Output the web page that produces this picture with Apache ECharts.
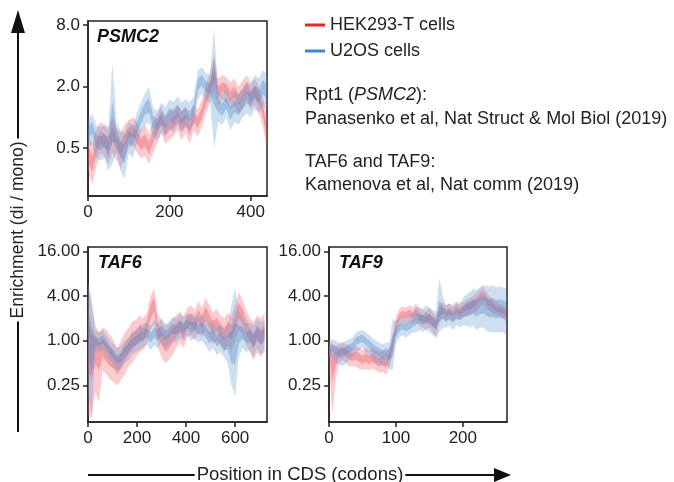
<!DOCTYPE html>
<html><head><meta charset="utf-8">
<script src="https://cdn.jsdelivr.net/npm/echarts@6/dist/echarts.min.js"></script>
<style>html,body{margin:0;padding:0;background:#fff}#c{width:674px;height:482px}</style>
</head><body><div id="c"></div>
<script>
// ---------- DATA (enrichment di/mono, linear units) ----------
const seriesNames = ['HEK293-T cells', 'U2OS cells'];
const panelTitles = ['PSMC2', 'TAF6', 'TAF9'];

const psmc2X = [0,10,20,30,40,50,60,70,80,90,100,110,120,130,140,150,160,170,180,190,200,210,220,230,240,250,260,270,280,290,300,310,320,330,340,350,360,370,380,390,400,410,420,430,440];
const psmc2HekMid = [0.45,0.35,0.5,0.65,0.6,0.55,0.7,0.55,0.5,0.6,0.7,0.75,0.65,0.55,0.6,0.5,0.65,0.8,0.95,0.75,0.85,0.9,1.0,0.85,0.95,0.75,1.0,0.9,1.1,1.5,2.0,2.6,1.8,2.0,1.9,1.6,1.8,1.5,1.7,2.0,1.6,1.8,1.5,1.2,0.7];
const psmc2HekLo  = [0.3,0.22,0.32,0.45,0.42,0.35,0.45,0.38,0.32,0.4,0.5,0.55,0.45,0.4,0.42,0.35,0.45,0.55,0.7,0.55,0.6,0.65,0.75,0.6,0.7,0.55,0.75,0.65,0.8,1.1,1.4,1.8,1.3,1.5,1.4,1.2,1.3,1.1,1.2,1.5,1.2,1.3,1.1,0.8,0.5];
const psmc2HekHi  = [0.7,0.55,0.75,0.9,0.85,0.8,1.0,0.8,0.7,0.85,0.95,1.0,0.9,0.75,0.85,0.7,0.9,1.1,1.3,1.0,1.15,1.2,1.35,1.15,1.3,1.0,1.35,1.2,1.5,2.1,2.8,4.0,2.4,2.6,2.5,2.2,2.4,2.0,2.3,2.6,2.2,2.4,2.0,1.6,1.0];
const psmc2U2Mid  = [0.7,0.8,0.6,0.55,0.6,0.5,0.8,0.65,0.5,0.45,0.65,0.6,0.8,1.0,1.2,1.3,0.9,0.85,1.0,0.9,1.1,1.0,1.15,1.0,1.1,1.0,1.2,2.1,2.3,2.0,1.9,2.5,1.3,1.2,1.4,1.1,1.3,1.2,1.4,1.6,1.5,1.8,1.6,2.0,1.8];
const psmc2U2Lo   = [0.5,0.55,0.4,0.38,0.4,0.3,0.35,0.45,0.3,0.25,0.45,0.4,0.55,0.7,0.85,0.9,0.65,0.6,0.7,0.65,0.8,0.7,0.85,0.7,0.8,0.75,0.85,1.5,1.7,1.5,1.4,0.5,0.9,0.85,1.0,0.75,0.9,0.85,1.0,1.1,1.0,1.2,1.1,1.3,1.2];
const psmc2U2Hi   = [0.95,1.1,0.85,0.8,0.85,0.75,3.5,0.9,0.75,0.7,0.9,0.85,1.1,1.4,1.7,2.0,1.25,1.15,1.4,1.25,1.5,1.4,1.6,1.4,1.5,1.4,1.6,2.9,3.1,2.7,2.6,7.5,1.8,1.7,1.9,1.5,1.8,1.7,1.9,2.2,2.1,2.6,2.4,2.9,2.6];

const taf6X = [0,15,30,45,60,75,90,105,120,135,150,165,180,195,210,225,240,255,270,285,300,315,330,345,360,375,390,405,420,435,450,465,480,495,510,525,540,555,570,585,600,615,630,645,660,675,690,705,720];
const taf6HekMid = [1.0,0.7,0.9,0.75,0.8,0.7,0.6,0.55,0.45,0.55,0.7,0.85,1.0,1.1,1.3,1.2,1.5,2.5,3.2,1.4,1.1,0.9,1.0,1.2,1.4,1.6,1.3,1.8,2.0,1.7,2.2,1.8,2.4,1.9,1.5,1.7,1.4,1.2,1.5,1.3,1.8,2.6,2.2,1.6,1.2,1.0,1.3,1.1,1.4];
const taf6HekLo  = [0.1,0.09,0.2,0.15,0.4,0.35,0.3,0.28,0.25,0.3,0.35,0.45,0.5,0.6,0.7,0.75,0.9,1.4,1.7,0.8,0.6,0.5,0.55,0.65,0.8,0.95,0.8,1.1,1.2,1.0,1.3,1.1,1.4,1.1,0.9,1.0,0.85,0.7,0.85,0.75,1.0,1.4,1.2,0.9,0.7,0.55,0.7,0.6,0.8];
const taf6HekHi  = [6.0,3.0,1.6,1.3,1.5,1.4,1.2,1.0,0.8,1.0,1.3,1.5,1.8,1.9,2.2,2.0,2.4,4.0,5.0,2.3,1.9,1.6,1.7,2.0,2.2,2.5,2.1,2.8,3.0,2.6,3.4,2.8,3.8,3.0,2.4,2.7,2.2,2.0,2.4,2.1,3.0,4.5,3.6,2.6,2.0,1.8,2.2,2.0,2.4];
const taf6U2Mid  = [1.5,0.9,1.0,0.95,1.05,0.9,0.75,0.65,0.55,0.6,0.7,0.8,0.95,1.0,1.1,1.2,1.3,1.1,1.3,1.2,1.4,1.2,1.3,1.5,1.4,1.6,1.5,1.7,1.5,1.6,1.4,1.5,1.3,1.1,1.2,1.0,1.1,0.9,1.0,0.8,0.9,1.2,1.3,1.1,1.2,1.0,1.3,1.1,1.2];
const taf6U2Lo   = [0.2,0.1,0.7,0.7,0.75,0.65,0.55,0.45,0.4,0.42,0.5,0.55,0.65,0.7,0.75,0.8,0.9,0.75,0.85,0.8,0.95,0.8,0.9,1.0,0.95,1.1,1.0,1.2,1.0,1.1,0.95,1.0,0.85,0.7,0.8,0.65,0.7,0.6,0.5,0.25,0.18,0.6,0.8,0.7,0.75,0.6,0.8,0.65,0.7];
const taf6U2Hi   = [6.0,3.5,1.4,1.3,1.4,1.2,1.0,0.9,0.8,0.85,1.0,1.1,1.3,1.4,1.6,1.7,1.8,1.6,1.9,1.7,2.0,1.7,1.8,2.1,2.0,2.3,2.1,2.4,2.2,2.3,2.0,2.2,1.9,1.7,1.8,1.5,1.7,1.4,1.6,3.0,5.0,2.5,2.0,1.7,1.8,1.6,2.0,1.8,1.9];

const taf9X = [0,5,10,15,20,25,30,35,40,45,50,55,60,65,70,75,80,85,90,95,100,105,110,115,120,125,130,135,140,145,150,155,160,165,170,175,180,185,190,195,200,205,210,215,220,225,230,235,240,245,250,255,260,265];
const taf9HekMid = [0.8,0.55,0.6,0.7,0.75,0.7,0.65,0.6,0.65,0.6,0.55,0.6,0.55,0.6,0.55,0.5,0.55,0.5,0.6,0.9,1.6,2.1,2.3,2.2,2.4,2.2,2.5,2.1,2.0,1.9,2.1,1.8,1.6,2.4,2.6,2.4,2.5,2.3,2.7,2.5,2.6,2.8,2.9,3.1,3.4,3.8,4.2,3.6,3.2,2.9,2.7,2.6,2.5,2.3];
const taf9HekLo  = [0.5,0.1,0.3,0.5,0.55,0.5,0.45,0.45,0.45,0.42,0.4,0.42,0.4,0.42,0.4,0.37,0.38,0.35,0.42,0.65,1.2,1.6,1.8,1.7,1.8,1.7,1.9,1.6,1.5,1.4,1.5,1.3,1.1,1.8,2.0,1.8,1.9,1.8,2.0,1.9,2.0,2.1,2.2,2.3,2.5,2.8,3.1,2.7,2.5,2.3,2.2,2.1,2.0,1.8];
const taf9HekHi  = [1.0,0.9,0.85,0.9,0.95,0.9,0.85,0.8,0.85,0.8,0.75,0.8,0.75,0.8,0.75,0.7,0.75,0.7,0.8,1.2,2.1,2.7,2.9,2.8,3.0,2.8,3.2,2.7,2.6,2.5,2.8,2.4,2.2,3.1,3.3,3.0,3.2,3.0,3.4,3.2,3.3,3.6,3.8,4.0,4.4,4.8,5.4,4.6,4.0,3.6,3.3,3.1,3.0,2.8];
const taf9U2Mid  = [0.75,0.8,0.75,0.7,0.7,0.75,0.8,0.85,1.0,1.05,1.1,1.0,0.9,0.8,0.75,0.7,0.65,0.7,0.65,0.8,1.3,1.5,1.6,1.5,1.6,1.7,1.9,2.0,1.9,2.1,1.9,1.8,1.7,2.2,2.4,2.1,2.3,2.0,2.3,2.2,2.5,2.7,2.8,3.0,2.8,3.0,3.1,2.9,2.8,2.9,2.7,2.8,2.7,2.6];
const taf9U2Lo   = [0.6,0.6,0.5,0.48,0.45,0.5,0.55,0.6,0.7,0.75,0.8,0.7,0.65,0.55,0.5,0.5,0.45,0.48,0.42,0.4,0.9,1.1,1.2,1.1,1.2,1.3,1.3,1.4,1.3,1.4,1.3,1.2,1.1,1.3,1.5,1.5,1.6,1.4,1.6,1.5,1.6,1.6,1.5,1.6,1.4,1.5,1.5,1.4,1.3,1.3,1.3,1.3,1.3,1.2];
const taf9U2Hi   = [1.0,1.05,1.0,0.95,0.95,1.0,1.05,1.1,1.3,1.35,1.4,1.3,1.2,1.1,1.0,0.95,0.9,0.95,0.95,2.0,1.8,2.0,2.1,2.0,2.2,2.3,2.8,2.9,2.7,3.0,2.8,2.6,2.5,7.0,4.0,3.0,3.2,2.9,3.2,3.1,3.8,4.2,4.5,5.0,4.8,5.2,5.6,5.5,5.4,5.6,5.2,5.4,5.2,5.0];

const psmc2YTicks = [0.5, 2, 8];
const tafYTicks = [0.25, 1, 4, 16];
const psmc2XTicks = [0, 200, 400];
const taf6XTicks = [0, 200, 400, 600];
const taf9XTicks = [0, 100, 200];

// ---------- BUILD ----------
const L2 = Math.log2;
const FONT = "'Liberation Sans', Arial, Helvetica, sans-serif";
const INK = '#222';
const colors = {
  hekOuter: 'rgba(240,96,106,0.32)', hekInner: 'rgba(236,76,90,0.36)',
  u2Outer: 'rgba(104,156,212,0.32)', u2Inner: 'rgba(76,128,192,0.34)',
  hekLegend: '#e8252b', u2Legend: '#3f86d8'
};

// band drawn as one polygon through the axis scales (api.coord)
function band(ax, xs, loLog, hiLog, color, name) {
  const data = xs.map((x, i) => [x, loLog[i], hiLog[i]]);
  return {
    type: 'custom', name: name || undefined, xAxisIndex: ax, yAxisIndex: ax, silent: true, animation: false,
    clip: true, itemStyle: {color: color},
    encode: {x: 0, y: [1, 2]},
    data: data,
    renderItem: function (params, api) {
      if (params.dataIndex !== 0) return null;
      const top = data.map(d => api.coord([d[0], d[2]]));
      const bot = data.map(d => api.coord([d[0], d[1]])).reverse();
      return {type: 'polygon', shape: {points: top.concat(bot)}, style: {fill: color}};
    }
  };
}
function lineSeries(ax, xs, mid, lo, hi, outerC, innerC, name) {
  const m = mid.map(L2), l = lo.map(L2), h = hi.map(L2);
  const il = m.map((v, i) => v + 0.4 * (l[i] - v));
  const ih = m.map((v, i) => v + 0.4 * (h[i] - v));
  return [band(ax, xs, l, h, outerC, name), band(ax, xs, il, ih, innerC, null)];
}
let series = [];
const panels = [
  [psmc2X, psmc2HekMid, psmc2HekLo, psmc2HekHi, psmc2U2Mid, psmc2U2Lo, psmc2U2Hi],
  [taf6X, taf6HekMid, taf6HekLo, taf6HekHi, taf6U2Mid, taf6U2Lo, taf6U2Hi],
  [taf9X, taf9HekMid, taf9HekLo, taf9HekHi, taf9U2Mid, taf9U2Lo, taf9U2Hi]
];
panels.forEach((p, ax) => {
  series = series.concat(lineSeries(ax, p[0], p[1], p[2], p[3], colors.hekOuter, colors.hekInner, seriesNames[0]));
  series = series.concat(lineSeries(ax, p[0], p[4], p[5], p[6], colors.u2Outer, colors.u2Inner, seriesNames[1]));
});

const grids = [
  {left: 88, top: 21, width: 179, height: 175},
  {left: 88, top: 247, width: 179, height: 175},
  {left: 329, top: 247, width: 178, height: 175}
].map(g => Object.assign(g, {show: true, borderColor: INK, borderWidth: 1.5, backgroundColor: 'transparent'}));

function xAxis(idx, max, ticks) {
  return {type: 'value', gridIndex: idx, min: 0, max: max,
    axisLine: {show: true, onZero: false, lineStyle: {color: INK, width: 1.5}},
    axisTick: {show: true, inside: false, length: 5, lineStyle: {color: INK, width: 1.5}, customValues: ticks},
    axisLabel: {show: true, margin: 8, color: INK, fontSize: 17, fontFamily: FONT, customValues: ticks},
    splitLine: {show: false}};
}
function yAxis(idx, min, max, ticks, dec) {
  const t = ticks.map(L2);
  return {type: 'value', gridIndex: idx, min: min, max: max,
    axisLine: {show: true, onZero: false, lineStyle: {color: INK, width: 1.5}},
    axisTick: {show: true, inside: false, length: 5, lineStyle: {color: INK, width: 1.5}, customValues: t},
    axisLabel: {show: true, margin: 8, color: INK, fontSize: 17, fontFamily: FONT, customValues: t,
      formatter: v => Math.pow(2, v).toFixed(dec)},
    splitLine: {show: false}};
}

const txt = (x, y, text, extra) => ({type: 'text', x: x, y: y, silent: true,
  style: Object.assign({text: text, fill: INK, font: '18px ' + FONT, verticalAlign: 'middle'}, extra || {})});

const option = {
  animation: false,
  backgroundColor: '#fff',
  grid: grids,
  xAxis: [xAxis(0, 440, psmc2XTicks), xAxis(1, 730, taf6XTicks), xAxis(2, 266, taf9XTicks)],
  yAxis: [yAxis(0, -2.55, 3.13, psmc2YTicks, 1), yAxis(1, -3.63, 4.19, tafYTicks, 2), yAxis(2, -3.63, 4.19, tafYTicks, 2)],
  title: [
    {text: panelTitles[0], left: 97, top: 28},
    {text: panelTitles[1], left: 98, top: 254},
    {text: panelTitles[2], left: 339, top: 254}
  ].map(t => Object.assign(t, {padding: 0, textStyle: {fontSize: 18, fontWeight: 'bold', fontStyle: 'italic', color: '#111', fontFamily: FONT}})),
  legend: {
    orient: 'vertical', left: 305, top: 16, itemWidth: 20, itemHeight: 3, itemGap: 8, icon: 'rect',
    selectedMode: false, padding: 0,
    textStyle: {fontSize: 18, color: INK, fontFamily: FONT},
    data: [
      {name: seriesNames[0], itemStyle: {color: colors.hekLegend}},
      {name: seriesNames[1], itemStyle: {color: colors.u2Legend}}
    ]
  },
  graphic: [
    {type: 'text', x: 305, y: 95, silent: true, style: {
      text: '{n|Rpt1 (}{i|PSMC2}{n|):}', verticalAlign: 'middle',
      rich: {n: {fontSize: 18, fontFamily: FONT, fill: INK, color: INK}, i: {fontSize: 18, fontFamily: FONT, fontStyle: 'italic', fill: INK, color: INK}}}},
    txt(305, 119, 'Panasenko et al, Nat Struct & Mol Biol (2019)'),
    txt(305, 162, 'TAF6 and TAF9:'),
    txt(305, 185, 'Kamenova et al, Nat comm (2019)'),
    // y arrow
    {type: 'line', silent: true, shape: {x1: 18, y1: 432, x2: 18, y2: 28}, style: {stroke: '#111', lineWidth: 2}},
    {type: 'polygon', silent: true, shape: {points: [[18, 10], [11, 33], [25, 33]]}, style: {fill: '#111'}},
    txt(18, 230, 'Enrichment (di / mono)', {align: 'center', font: '17.5px ' + FONT, backgroundColor: '#fff', padding: [0, 3]}),
    // x arrow
    {type: 'line', silent: true, shape: {x1: 88, y1: 475, x2: 500, y2: 475}, style: {stroke: '#111', lineWidth: 2}},
    {type: 'polygon', silent: true, shape: {points: [[511, 475], [494, 468], [494, 482]]}, style: {fill: '#111'}},
    txt(300, 475, 'Position in CDS (codons)', {align: 'center', font: '18.5px ' + FONT, backgroundColor: '#fff', padding: [0, 2]})
  ],
  series: series
};
option.graphic[6].rotation = Math.PI / 2;

const chart = echarts.init(document.getElementById('c'), null, {renderer: 'canvas'});
chart.setOption(option);
</script></body></html>
